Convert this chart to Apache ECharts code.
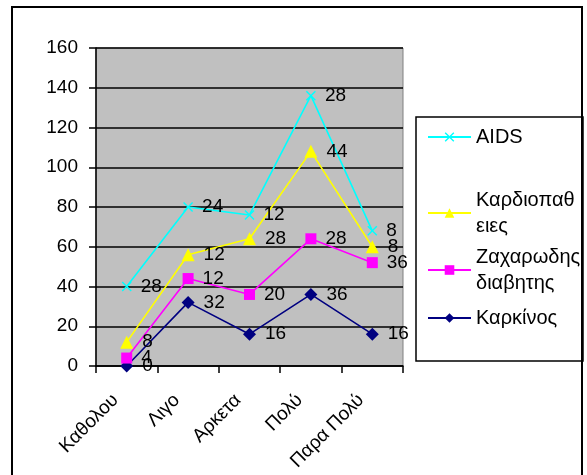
<!DOCTYPE html>
<html>
<head>
<meta charset="utf-8">
<script src="https://cdn.jsdelivr.net/npm/echarts@6/dist/echarts.min.js"></script>
<style>
  html, body { margin: 0; padding: 0; background: #fff; }
  #chart { width: 587px; height: 475px; }
</style>
</head>
<body>
<div id="chart"></div>
<script>
var chart = echarts.init(document.getElementById('chart'));

var font = 'Liberation Sans';

// κατηγορίες και τιμές (οι σειρές στοιβάζονται)
var categories = ['Καθολου', 'Λιγο', 'Αρκετα', 'Πολύ', 'Παρα Πολύ'];
var karkinos = [0, 32, 16, 36, 16];
var zaxarodis = [4, 12, 20, 28, 36];
var kardio = [8, 12, 28, 44, 8];
var aids = [28, 24, 12, 28, 8];

var seriesNames = ['Καρκίνος', 'Ζαχαρωδης διαβητης', 'Καρδιοπαθειες', 'AIDS'];
// κείμενο υπομνήματος όπως σπάει στο πλαίσιο
var legendText = {
    'AIDS': 'AIDS',
    'Καρδιοπαθειες': 'Καρδιοπαθ\nειες',
    'Ζαχαρωδης διαβητης': 'Ζαχαρωδης\nδιαβητης',
    'Καρκίνος': 'Καρκίνος'
};

var crossPath = 'path://M0,1L1,0L5,4L9,0L10,1L6,5L10,9L9,10L5,6L1,10L0,9L4,5Z';

function makeSeries(name, data, color, symbol, size) {
    return {
        name: name,
        type: 'line',
        stack: 'total',
        data: data,
        symbol: symbol,
        symbolSize: size,
        showSymbol: true,
        animation: false,
        lineStyle: { color: color, width: 1.6 },
        itemStyle: { color: color },
        label: {
            show: true,
            position: 'right',
            distance: 9,
            color: '#000',
            fontFamily: font,
            fontSize: 19,
            formatter: function(p) { return p.value; }
        }
    };
}

function makeLegend(name, top, twoLines) {
    return {
        data: [name],
        orient: 'vertical',
        left: 427,
        top: top,
        padding: 0,
        itemWidth: 43,
        itemHeight: 12,
        itemGap: 5,
        formatter: function(n) { return legendText[n]; },
        textStyle: {
            fontFamily: font,
            fontSize: 20,
            lineHeight: 26,
            color: '#000',
            padding: twoLines ? [26, 0, 0, 0] : 0
        }
    };
}

var option = {
    backgroundColor: '#fff',
    animation: false,
    grid: {
        left: 96,
        top: 48,
        right: 184,
        bottom: 109,
        show: true,
        backgroundColor: '#C0C0C0',
        borderColor: '#808080',
        borderWidth: 1
    },
    legend: [
        makeLegend('AIDS', 124, false),
        makeLegend('Καρδιοπαθειες', 174, true),
        makeLegend('Ζαχαρωδης διαβητης', 231, true),
        makeLegend('Καρκίνος', 305, false)
    ],
    xAxis: {
        type: 'category',
        data: categories,
        boundaryGap: true,
        axisLine: { lineStyle: { color: '#000', width: 1.5 } },
        axisTick: { show: true, length: 7, lineStyle: { color: '#000', width: 1.5 } },
        axisLabel: {
            rotate: 45,
            margin: 20,
            padding: [0, 16, 0, 0],
            color: '#000',
            fontFamily: font,
            fontSize: 19,
            interval: 0
        }
    },
    yAxis: {
        type: 'value',
        min: 0,
        max: 160,
        interval: 20,
        axisLine: { show: true, lineStyle: { color: '#000', width: 1.5 } },
        axisTick: { show: true, length: 7, lineStyle: { color: '#000', width: 1.5 } },
        axisLabel: {
            margin: 18,
            color: '#000',
            fontFamily: font,
            fontSize: 19
        },
        splitLine: { show: true, lineStyle: { color: '#000', width: 1.5 } }
    },
    graphic: [
        {
            type: 'rect',
            shape: { x: 12, y: 7, width: 570, height: 480 },
            style: { fill: 'none', stroke: '#000', lineWidth: 2 },
            silent: true
        },
        {
            type: 'rect',
            shape: { x: 416, y: 117, width: 167, height: 244 },
            style: { fill: 'none', stroke: '#000', lineWidth: 1.5 },
            silent: true
        }
    ],
    series: [
        makeSeries(seriesNames[0], karkinos, '#000080', 'diamond', 13),
        makeSeries(seriesNames[1], zaxarodis, '#FF00FF', 'rect', 11),
        makeSeries(seriesNames[2], kardio, '#FFFF00', 'triangle', 13),
        makeSeries(seriesNames[3], aids, '#00FFFF', crossPath, 10)
    ]
};

chart.setOption(option);
</script>
</body>
</html>
